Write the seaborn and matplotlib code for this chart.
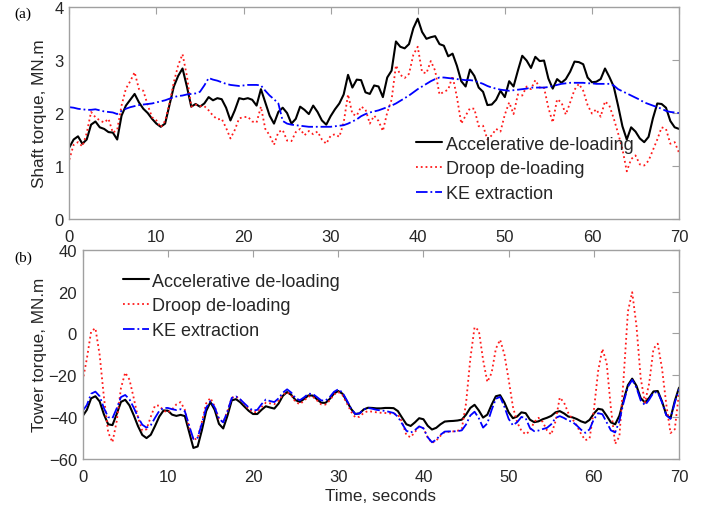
import numpy as np
import pandas as pd
import matplotlib
matplotlib.use("Agg")
import matplotlib.pyplot as plt
import seaborn as sns

# ---- time base (seconds) ----
time_s = np.arange(0, 70.01, 0.5)

# ---- (a) shaft torque, MN.m ----
shaft_accel = [
    1.35, 1.50, 1.56, 1.42, 1.50, 1.78, 1.84, 1.73, 1.70, 1.64,
    1.63, 1.50, 1.95, 2.14, 2.25, 2.36, 2.20, 2.08, 2.00, 1.89,
    1.80, 1.74, 1.80, 2.15, 2.50, 2.70, 2.84, 2.50, 2.12, 2.17,
    2.12, 2.18, 2.30, 2.24, 2.28, 2.26, 2.10, 1.86, 2.05, 2.28,
    2.26, 2.28, 2.25, 2.14, 2.45, 2.20, 1.95, 1.80, 2.02, 2.10,
    2.00, 1.80, 1.89, 2.12, 2.06, 1.98, 2.14, 2.02, 1.86, 1.78,
    1.94, 2.07, 2.18, 2.35, 2.72, 2.48, 2.63, 2.62, 2.39, 2.36,
    2.52, 2.50, 2.30, 2.67, 2.80, 3.35, 3.25, 3.22, 3.30, 3.60,
    3.78, 3.53, 3.40, 3.43, 3.45, 3.30, 3.27, 3.07, 3.12, 2.89,
    2.60, 2.50, 2.82, 2.70, 2.48, 2.40, 2.15, 2.16, 2.25, 2.42,
    2.30, 2.60, 2.50, 2.80, 3.08, 2.99, 2.85, 3.06, 2.98, 2.99,
    2.65, 2.46, 2.64, 2.57, 2.64, 2.78, 2.97, 2.96, 2.92, 2.67,
    2.58, 2.59, 2.64, 2.84, 2.68, 2.50, 2.14, 1.75, 1.50, 1.73,
    1.65, 1.52, 1.45, 1.55, 1.90, 2.18, 2.17, 2.10, 1.85, 1.73,
    1.70,
]
shaft_droop = [
    1.12, 1.40, 1.45, 1.37, 1.62, 2.02, 1.92, 1.86, 1.82, 1.89,
    1.63, 1.68, 2.14, 2.46, 2.60, 2.77, 2.45, 2.42, 2.15, 1.92,
    1.86, 1.73, 1.85, 2.18, 2.58, 2.90, 3.11, 2.70, 2.12, 2.16,
    2.13, 2.13, 2.05, 1.95, 1.88, 1.89, 1.72, 1.52, 1.68, 1.90,
    1.92, 1.93, 1.84, 1.82, 2.12, 1.70, 1.58, 1.40, 1.64, 1.68,
    1.48, 1.47, 1.64, 1.70, 1.58, 1.66, 1.60, 1.65, 1.50, 1.42,
    1.57, 1.60, 1.55, 1.82, 2.35, 1.98, 1.95, 2.12, 2.07, 1.80,
    1.95, 1.85, 1.66, 2.01, 2.25, 2.90, 2.72, 2.66, 2.74, 3.10,
    3.25, 2.77, 2.75, 2.98, 2.80, 2.35, 2.40, 2.44, 2.70, 2.30,
    1.80, 1.95, 2.09, 2.08, 1.75, 1.76, 1.50, 1.58, 1.70, 1.65,
    1.97, 2.20, 1.98, 2.35, 2.33, 2.50, 2.45, 2.62, 2.48, 2.48,
    2.10, 1.82, 2.26, 2.20, 1.97, 2.20, 2.44, 2.55, 2.42, 2.15,
    1.99, 2.07, 1.93, 2.22, 2.14, 1.90, 1.62, 1.32, 0.90, 1.13,
    1.20, 1.03, 1.01, 1.10, 1.30, 1.50, 1.73, 1.70, 1.42, 1.45,
    1.25,
]
shaft_ke = [
    2.11, 2.10, 2.08, 2.07, 2.06, 2.06, 2.07, 2.05, 2.03, 2.02,
    2.01, 1.98, 2.04, 2.08, 2.11, 2.13, 2.15, 2.16, 2.17, 2.18,
    2.20, 2.22, 2.24, 2.27, 2.30, 2.32, 2.33, 2.35, 2.36, 2.37,
    2.40, 2.52, 2.66, 2.63, 2.61, 2.58, 2.55, 2.53, 2.52, 2.51,
    2.52, 2.53, 2.53, 2.53, 2.52, 2.42, 2.33, 2.26, 2.18, 1.85,
    1.80, 1.78, 1.77, 1.76, 1.75, 1.74, 1.74, 1.74, 1.74, 1.74,
    1.74, 1.75, 1.76, 1.77, 1.80, 1.84, 1.88, 1.94, 1.98, 2.01,
    2.03, 2.05, 2.08, 2.11, 2.14, 2.18, 2.23, 2.28, 2.33, 2.39,
    2.45, 2.50, 2.55, 2.60, 2.64, 2.67, 2.67, 2.66, 2.65, 2.64,
    2.63, 2.62, 2.62, 2.61, 2.58, 2.55, 2.51, 2.48, 2.46, 2.44,
    2.43, 2.42, 2.43, 2.44, 2.45, 2.46, 2.48, 2.48, 2.48, 2.48,
    2.49, 2.51, 2.53, 2.55, 2.56, 2.57, 2.57, 2.57, 2.57, 2.56,
    2.56, 2.55, 2.55, 2.55, 2.55, 2.52, 2.45, 2.41, 2.37, 2.33,
    2.29, 2.25, 2.20, 2.17, 2.14, 2.11, 2.08, 2.04, 2.02, 2.01,
    2.00,
]

# ---- (b) tower torque, MN.m ----
tower_accel = [
    -39.5, -36.5, -31.0, -30.0, -32.5, -38.7, -43.4, -43.8, -38.5, -32.7,
    -31.7, -34.4, -39.1, -44.3, -48.5, -50.0, -48.4, -44.2, -39.7, -36.8,
    -36.9, -38.8, -39.4, -38.9, -39.5, -47.1, -54.7, -54.0, -46.2, -37.1,
    -32.8, -36.5, -43.2, -45.4, -39.3, -32.0, -31.4, -32.9, -35.0, -37.0,
    -38.5, -38.5, -36.5, -34.8, -35.4, -35.9, -33.5, -29.8, -28.0, -29.4,
    -31.9, -32.7, -31.3, -29.6, -29.7, -31.4, -33.1, -33.2, -31.3, -28.7,
    -27.5, -28.8, -32.3, -36.0, -38.5, -38.2, -36.3, -35.5, -35.6, -35.8,
    -35.8, -35.6, -35.6, -35.7, -37.1, -40.3, -43.4, -44.2, -42.5, -40.5,
    -41.0, -44.1, -45.9, -45.1, -43.4, -42.1, -41.9, -41.8, -41.6, -41.2,
    -38.8, -35.6, -34.1, -36.8, -40.2, -38.8, -34.1, -30.0, -29.5, -33.0,
    -37.7, -40.5, -39.7, -37.7, -38.1, -41.2, -42.4, -42.0, -41.0, -40.3,
    -39.4, -37.7, -37.1, -38.2, -39.7, -40.1, -40.9, -42.0, -42.7, -41.3,
    -38.3, -36.0, -36.4, -39.3, -42.5, -43.4, -39.3, -31.7, -24.7, -21.6,
    -25.0, -30.9, -33.0, -30.7, -27.7, -27.5, -32.5, -38.8, -40.5, -32.3,
    -25.9,
]
tower_droop = [
    -22.7, -12.0, 1.0, 2.5, -10.3, -30.5, -47.3, -52.0, -41.9, -26.1,
    -18.7, -22.1, -30.9, -40.2, -46.4, -45.8, -39.8, -34.4, -34.5, -36.9,
    -37.8, -36.3, -33.9, -32.8, -36.5, -44.8, -50.9, -50.0, -42.1, -33.4,
    -30.8, -34.9, -40.7, -42.5, -37.1, -30.7, -30.1, -31.6, -33.9, -36.1,
    -37.6, -37.6, -35.2, -33.1, -33.4, -33.8, -32.1, -29.3, -28.0, -29.7,
    -32.8, -33.8, -32.1, -30.1, -30.2, -32.0, -33.9, -34.0, -32.0, -29.2,
    -28.0, -29.5, -33.3, -37.3, -40.1, -39.8, -37.9, -37.1, -37.4, -37.7,
    -37.9, -38.0, -38.2, -38.4, -38.7, -42.3, -48.6, -49.6, -47.1, -44.6,
    -45.3, -49.7, -52.3, -51.2, -48.9, -47.1, -47.0, -46.8, -46.5, -45.6,
    -33.4, -12.2, 3.0, 1.4, -12.6, -23.2, -18.9, -7.3, -3.0, -10.0,
    -22.0, -35.0, -42.5, -46.5, -48.2, -46.6, -42.3, -40.3, -42.3, -46.3,
    -48.3, -42.0, -30.6, -33.0, -38.0, -41.0, -44.0, -48.0, -51.0, -50.2,
    -36.8, -18.1, -7.4, -14.0, -35.6, -52.8, -49.2, -21.0, 10.5, 19.7,
    3.7, -21.4, -33.1, -23.7, -7.3, -4.9, -16.7, -33.8, -47.6, -45.8,
    -28.3,
]
tower_ke = [
    -37.0, -34.2, -28.8, -27.8, -30.0, -35.7, -40.0, -40.5, -35.8, -30.4,
    -29.4, -31.5, -35.5, -40.0, -43.6, -45.0, -43.8, -40.3, -37.0, -35.6,
    -35.6, -36.2, -36.6, -36.2, -37.2, -44.0, -50.4, -49.8, -43.0, -35.5,
    -32.3, -35.3, -40.7, -42.5, -37.2, -30.8, -30.1, -31.5, -33.5, -35.4,
    -36.9, -36.5, -33.8, -31.6, -32.3, -32.8, -31.0, -28.3, -26.7, -28.3,
    -31.0, -31.9, -30.5, -28.8, -28.9, -30.4, -32.0, -32.1, -30.4, -27.9,
    -26.7, -28.2, -31.9, -35.8, -38.5, -38.2, -36.3, -35.6, -36.0, -36.5,
    -36.8, -37.0, -37.5, -38.0, -39.8, -43.2, -46.5, -47.4, -46.2, -44.4,
    -45.3, -49.6, -52.0, -50.8, -48.4, -46.9, -46.8, -46.8, -46.7, -46.3,
    -43.5, -39.2, -37.4, -40.5, -45.0, -43.0, -36.6, -31.2, -30.3, -35.0,
    -40.8, -43.9, -42.4, -39.9, -40.5, -45.2, -46.7, -46.4, -45.7, -45.1,
    -43.4, -40.4, -39.5, -40.4, -41.6, -42.3, -44.0, -46.0, -47.5, -45.8,
    -41.0, -38.1, -38.6, -42.4, -46.3, -47.3, -41.8, -32.8, -25.5, -22.2,
    -25.9, -32.0, -34.3, -31.6, -28.3, -28.0, -32.9, -39.1, -40.8, -33.0,
    -26.7,
]

series_names = ["Accelerative de-loading", "Droop de-loading", "KE extraction"]
series_colors = ["#000000", "#ff1a1a", "#0000ff"]
series_styles = ["-", ":", "-."]
series_widths = [1.5, 1.3, 1.3]

sns.set_style("white")
plt.rcParams["font.family"] = ["Liberation Sans", "DejaVu Sans"]

TEXT = "#262626"
SPINE = "#a0a0a0"
FS = 12.3

fig = plt.figure(figsize=(7.02, 5.10), dpi=100)
ax_a = fig.add_axes([0.0987, 0.5686, 0.8686, 0.4157])
ax_b = fig.add_axes([0.1177, 0.0980, 0.8496, 0.4104])


def draw_panel(ax, values_list):
    for vals, name, col, ls, lw in zip(values_list, series_names,
                                        series_colors, series_styles,
                                        series_widths):
        df = pd.DataFrame({"t": time_s, "v": vals})
        sns.lineplot(data=df, x="t", y="v", ax=ax, color=col,
                     linestyle=ls, linewidth=lw, label=name,
                     estimator=None, sort=False)


def style_axes(ax):
    for s in ax.spines.values():
        s.set_color(SPINE)
        s.set_linewidth(1.0)
        s.set_visible(True)
    ax.tick_params(direction="in", length=5, width=0.8, color=SPINE,
                   labelcolor=TEXT, labelsize=12, top=True, right=True)
    ax.tick_params(axis="x", pad=7)
    ax.tick_params(axis="y", pad=4)
    ax.set_xlim(0, 70)
    ax.set_xticks(range(0, 71, 10))
    ax.grid(False)


def add_legend(ax, anchor):
    ax.legend(loc="upper left", bbox_to_anchor=anchor, frameon=False,
              fontsize=13, handlelength=1.45, handletextpad=0.2,
              labelspacing=0.43, borderpad=0, borderaxespad=0,
              labelcolor=TEXT)


# (a) shaft torque
draw_panel(ax_a, [shaft_accel, shaft_droop, shaft_ke])
style_axes(ax_a)
ax_a.set_ylim(0, 4)
ax_a.set_yticks([0, 1, 2, 3, 4])
ax_a.set_xlabel("")
ax_a.set_ylabel("Shaft torque, MN.m", fontsize=FS, color=TEXT)
ax_a.yaxis.set_label_coords(-0.037, 0.5)
add_legend(ax_a, (0.569, 0.393))

# (b) tower torque
draw_panel(ax_b, [tower_accel, tower_droop, tower_ke])
style_axes(ax_b)
ax_b.set_ylim(-60, 40)
ax_b.set_yticks(range(-60, 41, 20))
ax_b.set_xlabel("Time, seconds", fontsize=FS, color=TEXT, labelpad=3)
ax_b.set_ylabel("Tower torque, MN.m", fontsize=FS, color=TEXT)
ax_b.yaxis.set_label_coords(-0.060, 0.5)
add_legend(ax_b, (0.067, 0.891))

fig.text(14 / 702, 1 - 14 / 510, "(a)", family=["Liberation Serif", "DejaVu Serif"],
         fontsize=11, color="#000000", va="center", ha="left")
fig.text(14 / 702, 1 - 258 / 510, "(b)", family=["Liberation Serif", "DejaVu Serif"],
         fontsize=11, color="#000000", va="center", ha="left")

fig.savefig("out.png", dpi=100)
